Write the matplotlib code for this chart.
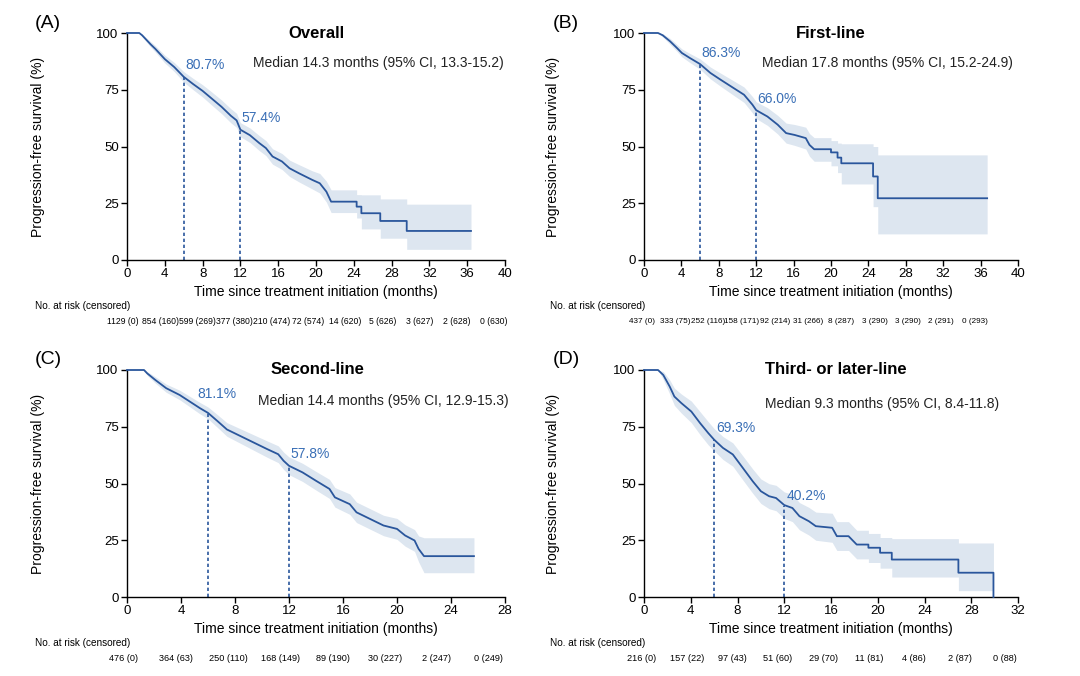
import numpy as np
import matplotlib
matplotlib.use("Agg")
import matplotlib.pyplot as plt

plt.rcParams['font.family'] = ['Liberation Sans', 'DejaVu Sans']

# ---- data ----
# (A) overall
a_t  = [0, 1.3, 1.6, 2.5, 3, 4, 5, 6, 7, 8, 9, 10, 11, 11.6, 12, 13, 14, 14.7, 15.4, 16.4, 17.2, 18.2, 19.6, 20.4, 21.1, 21.6,
        24.3, 24.3, 24.8, 24.8, 26.8, 26.8, 29.6, 29.6, 36.4]
a_s  = [100, 100, 99, 95, 93, 88.5, 85, 80.7, 77.5, 74.5, 71, 67.5, 63.5, 61.5, 57.4, 55, 51.5, 49.3, 45.6, 43.4, 40.4, 38.2, 35.3, 33.8, 30.1, 25.7,
        25.7, 23.5, 23.5, 20.6, 20.6, 17.2, 17.2, 12.8, 12.8]
a_lo = [100, 100, 98.4, 93.8, 91.6, 86.8, 83, 78.4, 75, 71.8, 68.1, 64.5, 60.4, 58.4, 54.3, 51.8, 48.2, 46, 42.2, 39.9, 36.8, 34.4, 31.3, 29.5, 25.5, 20.9,
        20.9, 18.5, 18.5, 13.7, 13.7, 9.6, 9.6, 4.7, 4.7]
a_hi = [100, 100, 99.5, 96.2, 94.4, 90.2, 87, 83, 80, 77.2, 73.9, 70.5, 66.6, 64.6, 60.5, 58.2, 54.8, 52.6, 49, 46.9, 44, 42, 39.3, 38.1, 34.7, 30.9,
        30.9, 28.8, 28.8, 28.7, 28.7, 26.9, 26.9, 24.6, 24.6]
a_risk = ['1129 (0)', '854 (160)', '599 (269)', '377 (380)', '210 (474)', '72 (574)', '14 (620)',
          '5 (626)', '3 (627)', '2 (628)', '0 (630)']

# (B) first-line
b_t  = [0, 1.5, 2, 2.8, 3.5, 4.05, 4.9, 6, 7.1, 8.2, 9.6, 10.7, 11.6, 12, 13.2, 14.3, 15.2, 16.1, 17.3, 17.7, 18.2,
        20, 20, 20.7, 20.7, 21.1, 21.1, 24.5, 24.5, 25, 25, 36.7]
b_s  = [100, 100, 99, 96.3, 93.5, 91.2, 89, 86.3, 82.4, 79.4, 75.7, 72.8, 68.4, 66, 63.2, 59.6, 55.9, 55.1, 53.7, 50.7, 48.8,
        48.8, 47.4, 47.4, 45.1, 45.1, 42.6, 42.6, 36.8, 36.8, 27.2, 27.2]
b_lo = [100, 100, 98.3, 95, 92, 89.5, 87, 84, 79.8, 76.5, 72.5, 69.4, 64.8, 62.3, 59.3, 55.5, 51.5, 50.5, 48.9, 45.7, 43.5,
        43.5, 41.5, 41.5, 38.5, 38.5, 33.5, 33.5, 23.5, 23.5, 11.5, 11.5]
b_hi = [100, 100, 99.7, 97.6, 95, 93, 91, 88.6, 85, 82.3, 78.9, 76.2, 72, 69.7, 67.1, 63.7, 60.3, 59.7, 58.5, 55.7, 53.9,
        53.9, 52.6, 52.6, 51.5, 51.5, 51.2, 51.2, 50, 50, 46.3, 46.3]
b_risk = ['437 (0)', '333 (75)', '252 (116)', '158 (171)', '92 (214)', '31 (266)', '8 (287)',
          '3 (290)', '3 (290)', '2 (291)', '0 (293)']

# (C) second-line
c_t  = [0, 1.26, 1.5, 2.1, 2.9, 3.9, 4.65, 5.4, 6, 6.7, 7.4, 8.4, 9.4, 10.4, 11.2, 11.6, 12, 13, 14, 15, 15.4, 16.5, 17,
        18, 19, 20, 20.6, 21.3, 21.6, 22, 25.7]
c_s  = [100, 100, 98.5, 95.6, 92, 89, 86.1, 83.2, 81.1, 77.5, 73.8, 70.9, 68, 65.1, 62.9, 60, 57.8, 54.9, 51.2, 47.6, 43.9, 40.9, 37.3,
        34.4, 31.5, 30, 27.1, 24.9, 21.2, 18, 18]
c_lo = [100, 100, 97.6, 94.2, 90.2, 86.9, 83.8, 80.7, 78.5, 74.7, 70.8, 67.7, 64.6, 61.5, 59.2, 56.2, 53.9, 50.9, 47.1, 43.4, 39.6, 36.4, 32.8,
        29.9, 27, 25.4, 22.4, 20.1, 15.5, 10.7, 10.7]
c_hi = [100, 100, 99.3, 97, 93.8, 91.1, 88.4, 85.7, 83.7, 80.3, 76.8, 74.1, 71.4, 68.7, 66.6, 63.8, 61.7, 58.9, 55.3, 51.8, 48.2, 45.4, 41.8,
        38.9, 36, 34.6, 31.8, 29.7, 26.9, 26.1, 26.1]
c_risk = ['476 (0)', '364 (63)', '250 (110)', '168 (149)', '89 (190)', '30 (227)', '2 (247)', '0 (249)']

# (D) third- or later-line
d_t  = [0, 1.2, 1.65, 2.2, 2.6, 3.2, 4.05, 4.8, 5.5, 6, 6.75, 7.6, 8.45, 9.3, 10, 10.7, 11.3, 12, 12.7, 13.3, 14.1, 14.7, 16.1, 16.5,
        17.5, 18.2, 19.2, 19.2, 20.2, 20.2, 21.2, 21.2, 26.9, 26.9, 29.9, 29.9]
d_s  = [100, 100, 97.8, 92.7, 88.3, 85.4, 81.7, 76.6, 72.2, 69.3, 65.7, 62.8, 56.9, 51, 46.6, 44.4, 43.6, 40.5, 39.2, 35.6, 33.4, 31.2, 30.5, 26.8,
        26.8, 23.1, 23.1, 21.7, 21.7, 19.5, 19.5, 16.5, 16.5, 10.7, 10.7, 0]
d_lo = [100, 100, 95.8, 89.4, 84.4, 81, 76.8, 71.5, 67, 64.4, 60.6, 57.6, 51.6, 45.7, 41.2, 38.9, 38, 34.6, 33.2, 29.6, 27.3, 25, 24.1, 20.5,
        20.5, 16.8, 16.8, 15.2, 15.2, 12.7, 12.7, 8.8, 8.8, 2.8, 2.8, 2.8]
d_hi = [100, 100, 99.3, 95.6, 92, 89.4, 86.3, 81.6, 77.2, 74.2, 70.7, 67.9, 62.2, 56.4, 52, 49.9, 49.2, 46.3, 45.2, 41.6, 39.5, 37.4, 36.9, 33.2,
        33.2, 29.4, 29.4, 28, 28, 26.2, 26.2, 25.7, 25.7, 23.8, 23.8, 23.8]
d_risk = ['216 (0)', '157 (22)', '97 (43)', '51 (60)', '29 (70)', '11 (81)', '4 (86)', '2 (87)', '0 (88)']

titles  = ['Overall', 'First-line', 'Second-line', 'Third- or later-line']
letters = ['(A)', '(B)', '(C)', '(D)']
medians = ['Median 14.3 months (95% CI, 13.3-15.2)', 'Median 17.8 months (95% CI, 15.2-24.9)',
           'Median 14.4 months (95% CI, 12.9-15.3)', 'Median 9.3 months (95% CI, 8.4-11.8)']
mark_t = [6, 12]
marks  = [[80.7, 57.4], [86.3, 66.0], [81.1, 57.8], [69.3, 40.2]]
xmax   = [40, 40, 28, 32]

curves = [(a_t, a_s, a_lo, a_hi), (b_t, b_s, b_lo, b_hi), (c_t, c_s, c_lo, c_hi), (d_t, d_s, d_lo, d_hi)]
risks  = [a_risk, b_risk, c_risk, d_risk]

# ---- layout ----
line_c = '#2a569c'
txt_c  = '#3a6fb6'
band_c = '#dde6f0'

fig = plt.figure(figsize=(10.8, 6.76), dpi=100)
W, H = 1080, 676
boxes = [(127, 505, 33, 260), (644, 1018, 33, 260), (127, 505, 370, 597), (644, 1018, 370, 597)]
letter_xy = [(48, 23), (566, 23), (48, 359), (566, 359)]
med_xy = [(0.664, 0.868), (0.652, 0.868), (0.677, 0.863), (0.636, 0.850)]
title_x = [0.5, 0.5, 0.505, 0.513]
mark_off = [[(1.2, 8.5), (1, 8.4)], [(1, 8.2), (0.5, 8)], [(-8, 13.7), (1, 8.5)], [(1.4, 8.4), (1.4, 7)]]
risk_pos = [(-0.0106, 0.0981), (-0.006, 0.089), (-0.008, 0.1379), (-0.006, 0.1214)]
risk_size = [6.2, 5.9, 6.6, 6.6]
risk_lbl_x = [-0.243, -0.251, -0.243, -0.251]
ylab_x = [-0.217, -0.225, -0.217, -0.225]

for i in range(4):
    l, r, top, bot = boxes[i]
    ax = fig.add_axes([l / W, 1 - bot / H, (r - l) / W, (bot - top) / H])
    t, s, lo, hi = curves[i]
    ax.fill_between(t, lo, hi, color=band_c, lw=0, zorder=1)
    ax.plot(t, s, color=line_c, lw=1.3, zorder=3, clip_on=False)
    for k in range(2):
        ax.plot([mark_t[k], mark_t[k]], [0, marks[i][k]], color=line_c, lw=1.2,
                linestyle=(0, (2, 1.6)), zorder=2)
        ax.annotate(f'{marks[i][k]:.1f}%', (mark_t[k], marks[i][k]), xytext=mark_off[i][k],
                    textcoords='offset points', ha='left', va='center', color=txt_c, fontsize=10)

    ax.set_xlim(0, xmax[i])
    ax.set_ylim(0, 100)
    ax.set_xticks(np.arange(0, xmax[i] + 1, 4))
    ax.set_yticks([0, 25, 50, 75, 100])
    ax.spines['top'].set_visible(False)
    ax.spines['right'].set_visible(False)
    for sp in ['left', 'bottom']:
        ax.spines[sp].set_linewidth(1.0)
    ax.tick_params(direction='out', length=4, width=1, labelsize=9.5, pad=2)
    ax.set_xlabel('Time since treatment initiation (months)', fontsize=10)
    ax.xaxis.set_label_coords(0.5, -0.11)
    ax.set_ylabel('Progression-free survival (%)', fontsize=10)
    ax.yaxis.set_label_coords(ylab_x[i], 0.5)

    ax.text(title_x[i], 1.0, titles[i], transform=ax.transAxes, ha='center', va='center',
            fontsize=12, fontweight='bold')
    ax.text(med_xy[i][0], med_xy[i][1], medians[i], transform=ax.transAxes, ha='center',
            va='center', fontsize=10, color='#222222')

    ax.text(risk_lbl_x[i], -0.201, 'No. at risk (censored)', transform=ax.transAxes,
            ha='left', va='center', fontsize=7.2, clip_on=False)
    x0, dx = risk_pos[i]
    for j, lab in enumerate(risks[i]):
        ax.text(x0 + j * dx, -0.27, lab, transform=ax.transAxes, ha='center', va='center',
                fontsize=risk_size[i], clip_on=False)

    fig.text(letter_xy[i][0] / W, 1 - letter_xy[i][1] / H, letters[i], ha='center',
             va='center', fontsize=14)

fig.savefig('out.png', dpi=100)
